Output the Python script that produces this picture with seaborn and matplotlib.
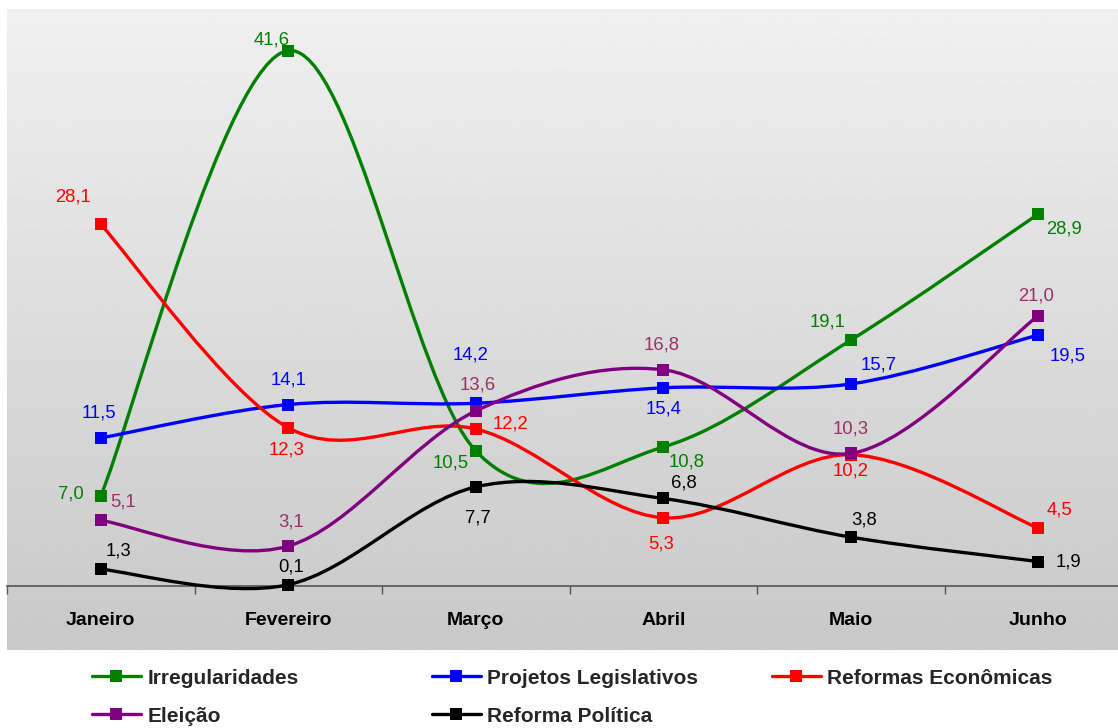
import numpy as np
import pandas as pd
import matplotlib
matplotlib.use("Agg")
import matplotlib.pyplot as plt
import seaborn as sns
from matplotlib.path import Path
from matplotlib.patches import PathPatch
from matplotlib.lines import Line2D

# data
meses = ['Janeiro', 'Fevereiro', 'Março', 'Abril', 'Maio', 'Junho']
irregularidades = [7.0, 41.6, 10.5, 10.8, 19.1, 28.9]
projetos = [11.5, 14.1, 14.2, 15.4, 15.7, 19.5]
reformas_econ = [28.1, 12.3, 12.2, 5.3, 10.2, 4.5]
eleicao = [5.1, 3.1, 13.6, 16.8, 10.3, 21.0]
reforma_pol = [1.3, 0.1, 7.7, 6.8, 3.8, 1.9]

series_names = ['Irregularidades', 'Projetos Legislativos', 'Reformas Econômicas',
                'Eleição', 'Reforma Política']
series_vals = [irregularidades, projetos, reformas_econ, eleicao, reforma_pol]

# style
line_colors = ['#008000', '#0000ff', '#ff0000', '#800080', '#000000']
label_colors = ['#008000', '#0000ff', '#ff0000', '#993366', '#000000']
# label offsets in pixels (dx, dy up)
label_offsets = [
    [(-30, 2), (-17, 11), (-25, -12), (23, -15), (-23, 18), (26, -15)],
    [(-2, 25), (0, 25), (-5, 48), (0, -21), (28, 19), (29, -21)],
    [(-28, 27), (-2, -22), (35, 5), (-2, -26), (0, -16), (21, 18)],
    [(22, 18), (3, 24), (2, 26), (-2, 25), (0, 24), (-2, 20)],
    [(18, 18), (3, 18), (2, -31), (21, 15), (13, 17), (30, 0)],
]

rows = []
for name, vals in zip(series_names, series_vals):
    for m, v in zip(meses, vals):
        rows.append({'serie': name, 'mes': m, 'x': meses.index(m), 'valor': v})
df = pd.DataFrame(rows)

sns.set_style('white')
plt.rcParams['font.family'] = ['Liberation Sans', 'DejaVu Sans']

W, H = 1118, 728
fig = plt.figure(figsize=(W / 100, H / 100), dpi=100)
fig.patch.set_facecolor('white')

# gradient background of the chart area
bg = fig.add_axes([7 / W, (H - 650) / H, 1 - 7 / W, 641 / H])
grad = np.linspace(0.94, 0.785, 256).reshape(-1, 1)
bg.imshow(grad, cmap='gray', vmin=0, vmax=1, aspect='auto', extent=[0, 1, 0, 1])
bg.set_axis_off()

ax = fig.add_axes([7 / W, (H - 586) / H, 1125 / W, 577 / H])
ax.set_facecolor('none')


def smooth_path(xs, ys):
    pts = list(zip(xs, ys))
    n = len(pts)
    verts = [pts[0]]
    codes = [Path.MOVETO]
    for i in range(n - 1):
        p0 = pts[max(i - 1, 0)]
        p1 = pts[i]
        p2 = pts[i + 1]
        p3 = pts[min(i + 2, n - 1)]
        c1 = (p1[0] + (p2[0] - p0[0]) / 6, p1[1] + (p2[1] - p0[1]) / 6)
        c2 = (p2[0] - (p3[0] - p1[0]) / 6, p2[1] - (p3[1] - p1[1]) / 6)
        verts += [c1, c2, p2]
        codes += [Path.CURVE4] * 3
    return Path(verts, codes)


for i, (name, vals) in enumerate(zip(series_names, series_vals)):
    sub = df[df['serie'] == name]
    patch = PathPatch(smooth_path(sub['x'].tolist(), sub['valor'].tolist()),
                      facecolor='none', edgecolor=line_colors[i], lw=2.4,
                      zorder=2 + i, clip_on=False)
    ax.add_patch(patch)
    sns.scatterplot(data=sub, x='x', y='valor', ax=ax, marker='s', s=75,
                    color=line_colors[i], edgecolor='none', zorder=2.5 + i,
                    clip_on=False, legend=False)
    for j, v in enumerate(vals):
        dx, dy = label_offsets[i][j]
        ax.annotate(f'{v:.1f}'.replace('.', ','), (j, v),
                    xytext=(dx * 0.72, dy * 0.72), textcoords='offset points',
                    ha='center', va='center', fontsize=13.3,
                    color=label_colors[i], zorder=10)

ax.set_xlim(-0.5, 5.5)
ax.set_ylim(0, 577 / 12.87)
ax.set_xlabel('')
ax.set_ylabel('')
ax.set_yticks([])
ax.set_xticks(range(len(meses)))
ax.set_xticklabels(meses, fontsize=14, fontweight='bold')
ax.set_xticks(np.arange(-0.5, 6, 1), minor=True)
ax.tick_params(axis='x', which='major', length=0, pad=19, colors='#000000')
ax.tick_params(axis='x', which='minor', length=6, width=1, color='#555555',
               direction='out', bottom=True)
for s in ['top', 'left', 'right']:
    ax.spines[s].set_visible(False)
ax.spines['bottom'].set_color('#555555')
ax.spines['bottom'].set_linewidth(1.2)

# legend, one entry per placed item
legend_pos = [(92, 678), (432, 678), (772, 678), (92, 716), (432, 716)]
for i, name in enumerate(series_names):
    h = Line2D([], [], color=line_colors[i], lw=2.4, marker='s', markersize=8,
               markeredgewidth=0)
    x0, y0 = legend_pos[i]
    fig.legend([h], [name], loc='center left',
               bbox_to_anchor=(x0 / W, 1 - y0 / H), frameon=False,
               borderpad=0, borderaxespad=0, handlelength=2.35,
               handletextpad=0.3, prop={'size': 15, 'weight': 'bold'})

fig.savefig('out.png', dpi=100)
